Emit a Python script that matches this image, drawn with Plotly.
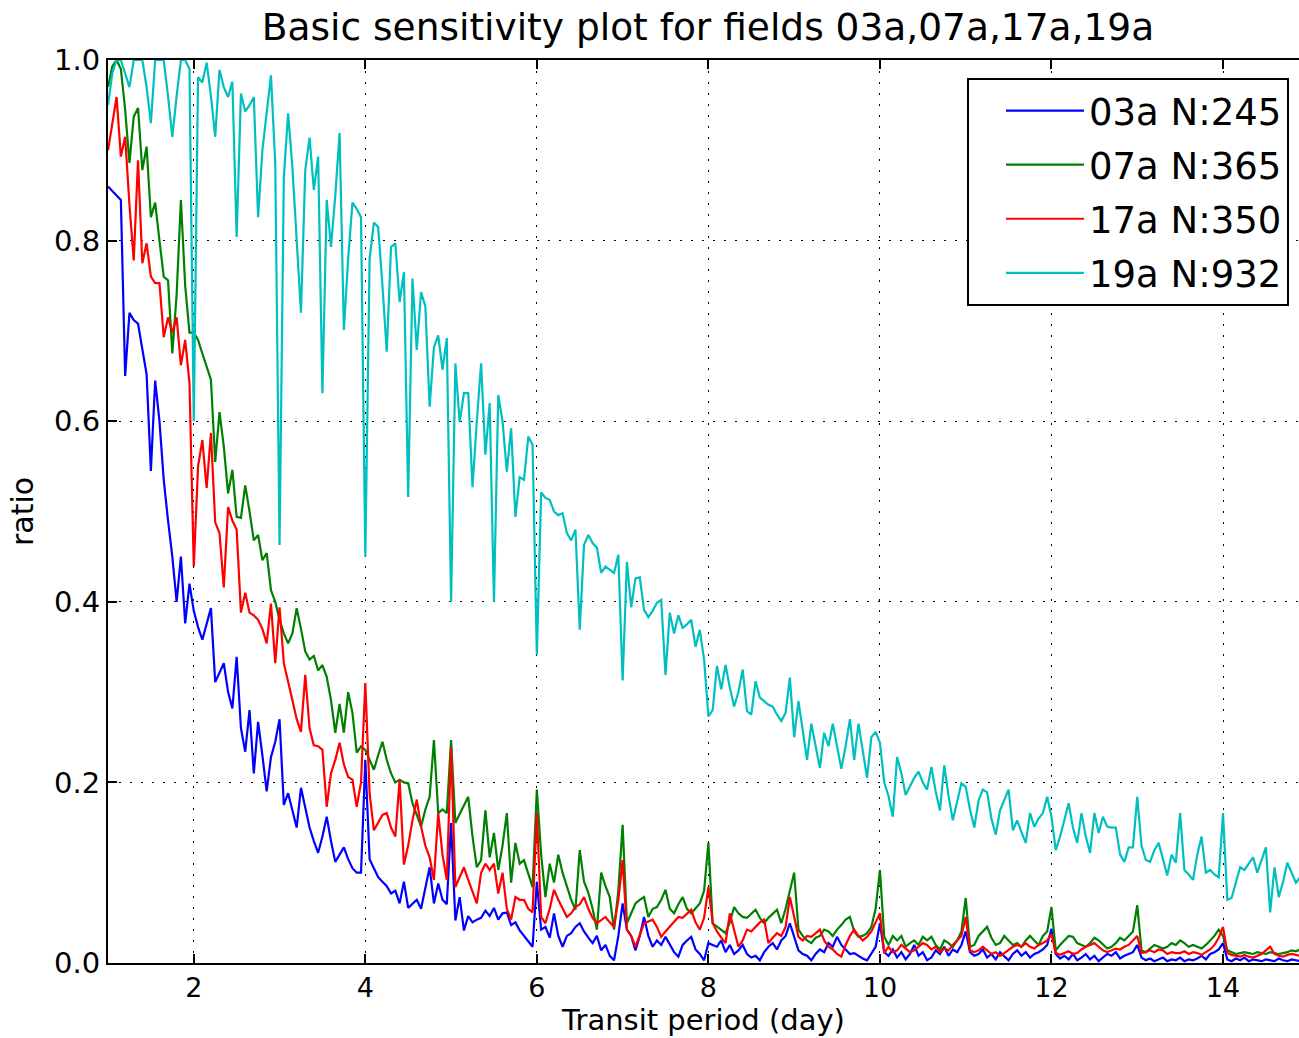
import plotly.graph_objects as go

# Transit period grid (day), sampled every 0.05 day from 1 to 15
period = [round(1 + 0.05 * i, 2) for i in range(281)]

ratio_03a = (
    [0.86, 0.855, 0.85, 0.845, 0.65, 0.72, 0.712, 0.708, 0.68, 0.652, 0.545, 0.645, 0.60, 0.535, 0.49, 0.45, 0.40, 0.45, 0.376, 0.42]
    + [0.39, 0.372, 0.358, 0.375, 0.393, 0.311, 0.322, 0.332, 0.30, 0.282, 0.339, 0.26, 0.234, 0.28, 0.21, 0.267, 0.23, 0.19, 0.228, 0.245]
    + [0.27, 0.175, 0.188, 0.17, 0.15, 0.194, 0.17, 0.15, 0.135, 0.122, 0.14, 0.162, 0.135, 0.112, 0.12, 0.128, 0.115, 0.105, 0.10, 0.10]
    + [0.225, 0.115, 0.105, 0.095, 0.09, 0.085, 0.077, 0.08, 0.066, 0.09, 0.061, 0.065, 0.07, 0.06, 0.085, 0.106, 0.066, 0.088, 0.07, 0.065]
    + [0.155, 0.047, 0.073, 0.036, 0.052, 0.045, 0.048, 0.05, 0.058, 0.052, 0.061, 0.048, 0.055, 0.056, 0.042, 0.045, 0.036, 0.03, 0.025, 0.018]
    + [0.09, 0.037, 0.04, 0.028, 0.055, 0.03, 0.018, 0.03, 0.033, 0.04, 0.044, 0.035, 0.028, 0.022, 0.03, 0.014, 0.02, 0.008, 0.003, 0.03]
    + [0.066, 0.037, 0.03, 0.014, 0.03, 0.051, 0.03, 0.018, 0.025, 0.02, 0.029, 0.02, 0.012, 0.007, 0.02, 0.025, 0.029, 0.015, 0.01, 0.003]
    + [0.022, 0.02, 0.018, 0.025, 0.012, 0.02, 0.01, 0.014, 0.02, 0.01, 0.006, 0.008, 0.003, 0.012, 0.018, 0.022, 0.015, 0.025, 0.03, 0.044]
    + [0.03, 0.014, 0.01, 0.008, 0.003, 0.01, 0.015, 0.012, 0.022, 0.018, 0.029, 0.02, 0.015, 0.01, 0.011, 0.008, 0.005, 0.003, 0.01, 0.018]
    + [0.044, 0.012, 0.008, 0.015, 0.006, 0.012, 0.004, 0.01, 0.02, 0.008, 0.012, 0.003, 0.006, 0.014, 0.01, 0.018, 0.008, 0.015, 0.012, 0.02]
    + [0.035, 0.012, 0.008, 0.01, 0.015, 0.006, 0.01, 0.004, 0.012, 0.008, 0.003, 0.01, 0.014, 0.008, 0.012, 0.006, 0.01, 0.012, 0.015, 0.02]
    + [0.038, 0.01, 0.005, 0.008, 0.004, 0.01, 0.003, 0.006, 0.01, 0.004, 0.008, 0.002, 0.006, 0.01, 0.008, 0.012, 0.005, 0.008, 0.01, 0.012]
    + [0.02, 0.006, 0.003, 0.005, 0.002, 0.004, 0.006, 0.002, 0.004, 0.003, 0.006, 0.002, 0.004, 0.003, 0.005, 0.008, 0.004, 0.01, 0.012, 0.015]
    + [0.022, 0.004, 0.002, 0.005, 0.003, 0.006, 0.002, 0.004, 0.003, 0.002, 0.004, 0.003, 0.002, 0.005, 0.003, 0.002, 0.004, 0.003, 0.002, 0.003]
    + [0.002]
)

ratio_07a = (
    [0.97, 0.993, 1.0, 0.99, 0.945, 0.886, 0.937, 0.947, 0.878, 0.904, 0.826, 0.842, 0.80, 0.76, 0.756, 0.675, 0.74, 0.845, 0.75, 0.698]
    + [0.698, 0.69, 0.675, 0.66, 0.646, 0.555, 0.61, 0.572, 0.52, 0.546, 0.494, 0.493, 0.529, 0.50, 0.468, 0.474, 0.446, 0.454, 0.413, 0.40]
    + [0.38, 0.365, 0.354, 0.365, 0.393, 0.37, 0.345, 0.336, 0.34, 0.324, 0.33, 0.317, 0.291, 0.255, 0.287, 0.255, 0.30, 0.277, 0.233, 0.24]
    + [0.236, 0.225, 0.214, 0.23, 0.245, 0.225, 0.21, 0.20, 0.203, 0.20, 0.199, 0.177, 0.165, 0.151, 0.17, 0.184, 0.247, 0.166, 0.17, 0.166]
    + [0.247, 0.155, 0.165, 0.175, 0.184, 0.14, 0.106, 0.114, 0.169, 0.117, 0.144, 0.103, 0.13, 0.166, 0.089, 0.133, 0.11, 0.114, 0.10, 0.084]
    + [0.192, 0.12, 0.073, 0.11, 0.089, 0.12, 0.10, 0.084, 0.07, 0.059, 0.125, 0.09, 0.078, 0.06, 0.037, 0.10, 0.085, 0.073, 0.037, 0.08]
    + [0.153, 0.044, 0.055, 0.066, 0.07, 0.073, 0.051, 0.06, 0.062, 0.07, 0.081, 0.06, 0.055, 0.065, 0.073, 0.06, 0.055, 0.06, 0.066, 0.08]
    + [0.133, 0.044, 0.04, 0.036, 0.033, 0.045, 0.062, 0.055, 0.051, 0.05, 0.055, 0.059, 0.05, 0.044, 0.05, 0.055, 0.059, 0.044, 0.06, 0.08]
    + [0.10, 0.037, 0.03, 0.025, 0.022, 0.028, 0.03, 0.037, 0.035, 0.03, 0.037, 0.042, 0.048, 0.051, 0.035, 0.029, 0.03, 0.033, 0.04, 0.06]
    + [0.103, 0.029, 0.02, 0.03, 0.025, 0.03, 0.018, 0.022, 0.025, 0.02, 0.029, 0.025, 0.029, 0.02, 0.015, 0.025, 0.022, 0.018, 0.025, 0.035]
    + [0.072, 0.018, 0.02, 0.03, 0.035, 0.04, 0.028, 0.02, 0.022, 0.03, 0.025, 0.02, 0.022, 0.018, 0.025, 0.03, 0.025, 0.02, 0.03, 0.035]
    + [0.062, 0.014, 0.02, 0.025, 0.03, 0.029, 0.022, 0.02, 0.018, 0.022, 0.028, 0.025, 0.02, 0.016, 0.018, 0.022, 0.028, 0.025, 0.03, 0.035]
    + [0.064, 0.014, 0.012, 0.016, 0.02, 0.018, 0.016, 0.018, 0.022, 0.02, 0.025, 0.022, 0.018, 0.02, 0.018, 0.016, 0.02, 0.025, 0.03, 0.037]
    + [0.03, 0.014, 0.012, 0.01, 0.011, 0.012, 0.011, 0.01, 0.012, 0.011, 0.01, 0.012, 0.011, 0.01, 0.011, 0.012, 0.014, 0.013, 0.015, 0.016]
    + [0.017]
)

ratio_17a = (
    [0.90, 0.93, 0.959, 0.893, 0.915, 0.84, 0.778, 0.889, 0.775, 0.797, 0.76, 0.753, 0.753, 0.693, 0.715, 0.698, 0.715, 0.662, 0.69, 0.642]
    + [0.439, 0.55, 0.579, 0.526, 0.587, 0.488, 0.476, 0.416, 0.505, 0.49, 0.48, 0.388, 0.41, 0.388, 0.385, 0.38, 0.37, 0.354, 0.398, 0.332]
    + [0.394, 0.332, 0.31, 0.291, 0.27, 0.256, 0.319, 0.26, 0.241, 0.24, 0.236, 0.173, 0.21, 0.225, 0.244, 0.22, 0.206, 0.203, 0.173, 0.20]
    + [0.31, 0.188, 0.147, 0.155, 0.164, 0.166, 0.15, 0.14, 0.203, 0.109, 0.13, 0.158, 0.181, 0.151, 0.13, 0.117, 0.092, 0.166, 0.12, 0.092]
    + [0.239, 0.084, 0.095, 0.106, 0.092, 0.08, 0.066, 0.10, 0.11, 0.103, 0.11, 0.077, 0.10, 0.06, 0.048, 0.073, 0.07, 0.07, 0.06, 0.056]
    + [0.166, 0.051, 0.044, 0.06, 0.081, 0.07, 0.06, 0.051, 0.055, 0.062, 0.065, 0.073, 0.06, 0.05, 0.044, 0.048, 0.051, 0.045, 0.04, 0.07]
    + [0.114, 0.037, 0.03, 0.018, 0.03, 0.044, 0.046, 0.048, 0.04, 0.029, 0.035, 0.04, 0.045, 0.051, 0.05, 0.055, 0.059, 0.045, 0.037, 0.05]
    + [0.084, 0.044, 0.035, 0.028, 0.022, 0.055, 0.035, 0.018, 0.025, 0.037, 0.035, 0.04, 0.045, 0.048, 0.022, 0.028, 0.033, 0.03, 0.04, 0.073]
    + [0.05, 0.029, 0.025, 0.03, 0.029, 0.033, 0.037, 0.025, 0.018, 0.015, 0.01, 0.007, 0.02, 0.03, 0.037, 0.03, 0.025, 0.029, 0.035, 0.045]
    + [0.055, 0.011, 0.018, 0.012, 0.014, 0.02, 0.016, 0.012, 0.014, 0.018, 0.022, 0.02, 0.015, 0.018, 0.012, 0.016, 0.014, 0.02, 0.025, 0.03]
    + [0.051, 0.014, 0.012, 0.014, 0.018, 0.014, 0.01, 0.012, 0.008, 0.011, 0.015, 0.018, 0.02, 0.018, 0.022, 0.018, 0.016, 0.02, 0.022, 0.025]
    + [0.032, 0.011, 0.009, 0.011, 0.013, 0.01, 0.011, 0.015, 0.018, 0.02, 0.022, 0.018, 0.014, 0.012, 0.014, 0.016, 0.015, 0.018, 0.02, 0.025]
    + [0.03, 0.011, 0.012, 0.014, 0.012, 0.015, 0.014, 0.01, 0.012, 0.011, 0.011, 0.013, 0.01, 0.012, 0.011, 0.009, 0.012, 0.015, 0.02, 0.028]
    + [0.04, 0.011, 0.009, 0.008, 0.007, 0.009, 0.007, 0.006, 0.008, 0.01, 0.014, 0.018, 0.01, 0.008, 0.007, 0.009, 0.01, 0.009, 0.008, 0.009]
    + [0.009]
)

ratio_19a = (
    [0.95, 0.985, 1.0, 1.0, 0.985, 0.97, 1.0, 1.0, 1.0, 0.97, 0.93, 1.0, 1.0, 1.0, 0.96, 0.915, 0.96, 1.0, 1.0, 0.99]
    + [0.60, 0.981, 0.975, 0.997, 0.96, 0.915, 0.989, 0.97, 0.959, 0.976, 0.804, 0.963, 0.943, 0.95, 0.959, 0.826, 0.90, 0.94, 0.983, 0.886]
    + [0.463, 0.87, 0.941, 0.881, 0.80, 0.72, 0.878, 0.914, 0.856, 0.893, 0.631, 0.845, 0.793, 0.85, 0.919, 0.701, 0.78, 0.842, 0.835, 0.826]
    + [0.45, 0.78, 0.82, 0.815, 0.75, 0.677, 0.793, 0.797, 0.732, 0.765, 0.516, 0.758, 0.679, 0.743, 0.727, 0.616, 0.682, 0.695, 0.657, 0.692]
    + [0.40, 0.664, 0.599, 0.631, 0.631, 0.527, 0.60, 0.664, 0.563, 0.62, 0.40, 0.629, 0.60, 0.544, 0.592, 0.494, 0.538, 0.535, 0.583, 0.574]
    + [0.341, 0.521, 0.515, 0.513, 0.50, 0.496, 0.498, 0.476, 0.468, 0.48, 0.369, 0.463, 0.474, 0.465, 0.46, 0.432, 0.439, 0.435, 0.432, 0.452]
    + [0.313, 0.444, 0.394, 0.426, 0.427, 0.391, 0.383, 0.39, 0.399, 0.402, 0.319, 0.388, 0.365, 0.385, 0.371, 0.375, 0.38, 0.35, 0.369, 0.336]
    + [0.273, 0.28, 0.329, 0.303, 0.33, 0.305, 0.284, 0.30, 0.325, 0.279, 0.275, 0.312, 0.294, 0.29, 0.286, 0.284, 0.275, 0.268, 0.277, 0.316]
    + [0.25, 0.29, 0.255, 0.225, 0.265, 0.24, 0.216, 0.255, 0.24, 0.265, 0.24, 0.215, 0.24, 0.27, 0.225, 0.265, 0.235, 0.205, 0.25, 0.256]
    + [0.244, 0.20, 0.185, 0.162, 0.228, 0.21, 0.186, 0.195, 0.205, 0.212, 0.20, 0.192, 0.217, 0.19, 0.169, 0.219, 0.185, 0.158, 0.18, 0.199]
    + [0.195, 0.17, 0.15, 0.18, 0.192, 0.189, 0.16, 0.142, 0.169, 0.18, 0.192, 0.147, 0.158, 0.145, 0.133, 0.166, 0.151, 0.16, 0.166, 0.184]
    + [0.162, 0.125, 0.14, 0.158, 0.177, 0.15, 0.133, 0.166, 0.14, 0.122, 0.166, 0.144, 0.162, 0.151, 0.15, 0.15, 0.12, 0.112, 0.128, 0.128]
    + [0.184, 0.13, 0.114, 0.112, 0.125, 0.133, 0.115, 0.097, 0.12, 0.111, 0.166, 0.103, 0.098, 0.092, 0.12, 0.14, 0.10, 0.103, 0.098, 0.095]
    + [0.166, 0.07, 0.072, 0.09, 0.106, 0.103, 0.11, 0.117, 0.10, 0.114, 0.128, 0.056, 0.106, 0.073, 0.09, 0.111, 0.10, 0.089, 0.095, 0.10]
    + [0.10]
)

series_names = ["03a N:245", "07a N:365", "17a N:350", "19a N:932"]
series_values = [ratio_03a, ratio_07a, ratio_17a, ratio_19a]
series_colors = ["#0000ff", "#008000", "#ff0000", "#00bfbf"]
x_ticks = [2, 4, 6, 8, 10, 12, 14]
y_ticks = [0.0, 0.2, 0.4, 0.6, 0.8, 1.0]

FONT = "DejaVu Sans"

fig = go.Figure()
for name, vals, col in zip(series_names, series_values, series_colors):
    assert len(vals) == len(period), (name, len(vals))
    fig.add_trace(go.Scatter(x=period, y=vals, mode="lines", name=name,
                             legendgroup=name,
                             line=dict(color=col, width=2.2)))

axis_common = dict(
    showline=True, linecolor="black", linewidth=2,
    ticks="inside", ticklen=9, tickwidth=1.5, tickcolor="black",
    showgrid=True, gridcolor="black", gridwidth=1, griddash="2px,9px",
    zeroline=False,
)

fig.update_layout(
    width=1299, height=1038,
    margin=dict(l=108, r=0, t=60, b=75),
    paper_bgcolor="white", plot_bgcolor="white",
    font=dict(family=FONT, color="black"),
    title=dict(text="Basic sensitivity plot for fields 03a,07a,17a,19a",
               font=dict(family=FONT, size=37.5, color="black"),
               xref="container", x=708 / 1299, xanchor="center",
               yref="container", y=1 - 27 / 1038, yanchor="middle"),
    xaxis=dict(range=[1, 14.886], tickvals=x_ticks, mirror="ticks",
               tickfont=dict(family=FONT, size=27, color="black"),
               title=dict(text="Transit period (day)",
                          font=dict(family=FONT, size=29, color="black"),
                          standoff=4),
               **axis_common),
    yaxis=dict(range=[0, 1], tickvals=y_ticks, tickformat=".1f", mirror=False,
               tickfont=dict(family=FONT, size=29, color="black"),
               title=dict(text="ratio", font=dict(family=FONT, size=30, color="black"),
                          standoff=12),
               **axis_common),
    legend=dict(x=(1289 - 108) / 1191, xanchor="right",
                y=(963 - 78) / 903, yanchor="top",
                bgcolor="white", bordercolor="black", borderwidth=2,
                font=dict(family=FONT, size=37, color="black"),
                itemwidth=78, indentation=32, tracegroupgap=3),
    showlegend=True,
)

fig.write_html("out.html")
